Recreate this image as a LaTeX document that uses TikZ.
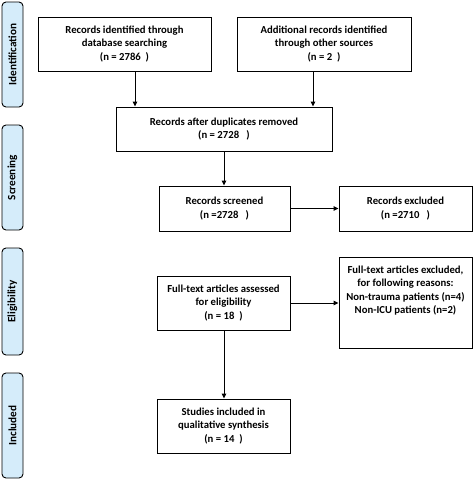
\documentclass[tikz,border=0pt]{standalone}
\usepackage{fontspec}
\setmainfont{Carlito}
\usetikzlibrary{arrows.meta}
\definecolor{sidefill}{HTML}{D5ECFA}
\begin{document}
\begin{tikzpicture}[x=1pt,y=-1pt,
  box/.style={draw=black,line width=0.9pt,fill=white,align=center,font=\bfseries\fontsize{10.7}{13.2}\selectfont,inner sep=0pt},
  side/.style={draw=black,line width=0.9pt,fill=sidefill,rounded corners=4pt},
  sidetext/.style={rotate=90,font=\bfseries\fontsize{11.2}{13}\selectfont},
  arr/.style={-{Triangle[length=5pt,width=4.5pt]},line width=0.9pt}]
\useasboundingbox (0,0) rectangle (473,480);
% side labels
\draw[side] (2,2) rectangle (23,107);
\node[sidetext] (sid) at (12.5,54.5) {Identification};
\draw[side] (2,125) rectangle (23,230);
\node[sidetext] (sscr) at (12.5,177.5) {Screening};
\draw[side] (2,248) rectangle (23,355);
\node[sidetext] (selig) at (12.5,301.5) {Eligibility};
\draw[side] (2,373) rectangle (23,478);
\node[sidetext] (sinc) at (12.5,425.5) {Included};
% boxes
\node[box,minimum width=173pt,minimum height=54pt] (ident) at (124.5,44) {Records identified through\\database searching\\(n = 2786\ \ )};
\node[box,minimum width=174pt,minimum height=54pt] (add) at (324,44) {Additional records identified\\through other sources\\(n = 2\ \ )};
\node[box,minimum width=216pt,minimum height=44pt] (dup) at (224,129) {Records after duplicates removed\\(n = 2728\ \ \ )};
\node[box,minimum width=131pt,minimum height=45pt] (scr) at (224.5,208.5) {Records screened\\(n =2728\ \ \ )};
\node[box,minimum width=133pt,minimum height=45pt] (exc) at (405.5,208.5) {Records excluded\\(n =2710\ \ \ )};
\node[box,minimum width=133pt,minimum height=54pt] (full) at (223.5,303) {Full-text articles assessed\\for eligibility\\(n = 18\ \ )};
\node[box,minimum width=133pt,minimum height=91pt,anchor=north] (fexc) at (405.5,257) {};
\node[align=center,font=\bfseries\fontsize{10.7}{13.2}\selectfont,anchor=north,inner sep=0pt] (fexct) at (405.5,266) {Full-text articles excluded,\\for following reasons:\\Non-trauma patients (n=4)\\Non-ICU patients (n=2)};
\node[box,minimum width=133pt,minimum height=54pt] (stud) at (223.5,426) {Studies included in\\qualitative synthesis\\(n = 14\ \ )};
% arrows
\draw[arr] (ident.south -| 135,0) -- (dup.north -| 135,0);
\draw[arr] (add.south -| 313,0) -- (dup.north -| 313,0);
\draw[arr] (dup.south -| 224,0) -- (scr.north -| 224,0);
\draw[arr] (scr.east) -- (exc.west);
\draw[arr] (full.east) -- (fexc.west |- full.east);
\draw[arr] (full.south -| 224,0) -- (stud.north -| 224,0);
\end{tikzpicture}
\end{document}
